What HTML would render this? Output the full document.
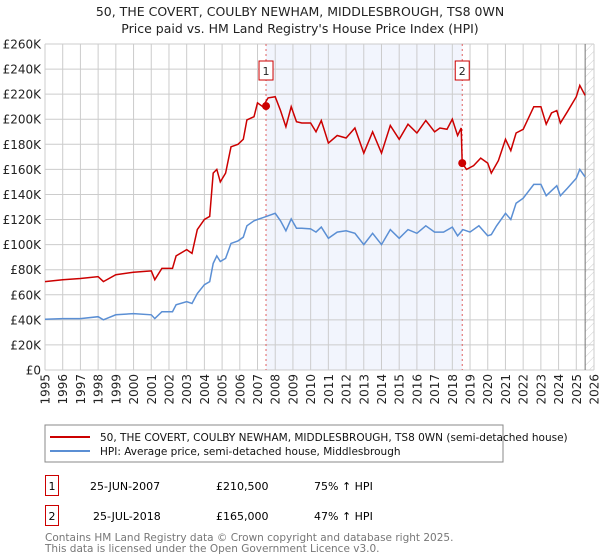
<!DOCTYPE html>
<html><head><meta charset="utf-8"><style>
body{margin:0;background:#fff;font-family:"Liberation Sans","DejaVu Sans",sans-serif;}
#wrap{position:relative;width:600px;height:560px;overflow:hidden;}
</style></head><body>
<div id="wrap">
<svg id="chart" width="600" height="560" xmlns="http://www.w3.org/2000/svg" font-family="DejaVu Sans, Liberation Sans, sans-serif">
<text x="300" y="16" text-anchor="middle" font-size="12.5" fill="#222">50, THE COVERT, COULBY NEWHAM, MIDDLESBROUGH, TS8 0WN</text>
<text x="300" y="33" text-anchor="middle" font-size="12.5" fill="#222">Price paid vs. HM Land Registry's House Price Index (HPI)</text>
<defs><pattern id="hatch" width="6" height="6" patternUnits="userSpaceOnUse" patternTransform="rotate(45)"><line x1="0" y1="0" x2="0" y2="6" stroke="#ccc" stroke-width="1"/></pattern></defs>
<g id="grid"></g><g id="marks"></g><g id="axes"></g>
<rect x="45" y="425" width="458" height="37" fill="#fff" stroke="#888"/>
<line x1="50" y1="437" x2="90" y2="437" stroke="#cc0000" stroke-width="2"/>
<text x="100" y="441" font-size="10.5" fill="#111">50, THE COVERT, COULBY NEWHAM, MIDDLESBROUGH, TS8 0WN (semi-detached house)</text>
<line x1="50" y1="451" x2="90" y2="451" stroke="#5b8fd4" stroke-width="2"/>
<text x="100" y="455" font-size="10.5" fill="#111">HPI: Average price, semi-detached house, Middlesbrough</text>
<rect x="45.5" y="475.5" width="13" height="20" fill="#fff" stroke="#cc0000"/>
<text x="52" y="490" text-anchor="middle" font-size="11">1</text>
<text x="90" y="490" font-size="11">25-JUN-2007</text>
<text x="216" y="490" font-size="11">£210,500</text>
<text x="314" y="490" font-size="11">75% ↑ HPI</text>
<rect x="45.5" y="505.5" width="13" height="20" fill="#fff" stroke="#cc0000"/>
<text x="52" y="520" text-anchor="middle" font-size="11">2</text>
<text x="93" y="520" font-size="11">25-JUL-2018</text>
<text x="216" y="520" font-size="11">£165,000</text>
<text x="314" y="520" font-size="11">47% ↑ HPI</text>
<text x="45" y="541" font-size="10.5" fill="#777">Contains HM Land Registry data © Crown copyright and database right 2025.</text>
<text x="45" y="552" font-size="10.5" fill="#777">This data is licensed under the Open Government Licence v3.0.</text>
</svg>
</div>
<script>
const yTicks=[0,20,40,60,80,100,120,140,160,180,200,220,240,260];
const yTickLabels=["£0","£20K","£40K","£60K","£80K","£100K","£120K","£140K","£160K","£180K","£200K","£220K","£240K","£260K"];
const xTicks=[1995,1996,1997,1998,1999,2000,2001,2002,2003,2004,2005,2006,2007,2008,2009,2010,2011,2012,2013,2014,2015,2016,2017,2018,2019,2020,2021,2022,2023,2024,2025,2026];
const hpiT=[1995,1996,1997,1998,1998.3,1999,2000,2001,2001.2,2001.6,2002.2,2002.4,2003,2003.3,2003.6,2004,2004.3,2004.5,2004.7,2004.9,2005.2,2005.5,2005.9,2006.2,2006.4,2006.8,2007,2007.3,2007.6,2008,2008.3,2008.6,2008.9,2009.2,2009.5,2010,2010.3,2010.6,2011,2011.5,2012,2012.5,2013,2013.5,2014,2014.5,2015,2015.5,2016,2016.5,2017,2017.5,2018,2018.3,2018.6,2019,2019.5,2020,2020.2,2020.5,2021,2021.3,2021.6,2022,2022.6,2023,2023.3,2023.6,2023.9,2024.1,2024.5,2025,2025.2,2025.5];
const hpiV=[40.5,41,41,42.5,40,44,45,44,41,46.5,46.5,52,54.5,53,61,68,70.5,85,91,86.5,89,101,103,106,115,119,120,121.5,123,125,119,111,120.5,113,113,112.5,110,114,105,110,111,109,100,109,100,112,105,112,109,115,110,110,114,107,112,110,115,107,108,115,125,120,133,137,148,148,139,143,147,139,145,153,160,154];
const priceT=[1995,1996,1997,1998,1998.3,1999,2000,2001,2001.2,2001.6,2002.2,2002.4,2003,2003.3,2003.6,2004,2004.3,2004.5,2004.7,2004.9,2005.2,2005.5,2005.9,2006.2,2006.4,2006.8,2007,2007.3,2007.6,2008,2008.3,2008.6,2008.9,2009.2,2009.5,2010,2010.3,2010.6,2011,2011.5,2012,2012.5,2013,2013.5,2014,2014.5,2015,2015.5,2016,2016.5,2017,2017.3,2017.7,2018,2018.3,2018.5,2018.56,2018.8,2019.2,2019.6,2020,2020.2,2020.6,2021,2021.3,2021.6,2022,2022.6,2023,2023.3,2023.6,2023.9,2024.1,2024.5,2025,2025.2,2025.5];
const priceV=[70.5,72,73,74.5,70.5,76,78,79,72,81,81,91,96,93,112,120,122.5,157,160,150,157,178,180,184,199.5,202,213,210,217,218,207,194,210,198,197,197,190,199,181,187,185,193,173,190,173,195,184,196,189,199,190,193,192,200,187,193,165,160,163,169,165,157,167,184,175,189,192,210,210,196,205,207,197,206,218,227,219];
const saleT=[2007.48,2018.56];
const saleV=[210.5,165];
const saleLabels=["1","2"];
const X0=45,X1=594,Y0=370,Y1=44;
const x=t=>X0+(t-1995)/(2026-1995)*(X1-X0);
const y=v=>Y0-v/260*(Y0-Y1);
const NS="http://www.w3.org/2000/svg";
function mk(tag,attrs,parent){const e=document.createElementNS(NS,tag);for(const k in attrs)e.setAttribute(k,attrs[k]);parent.appendChild(e);return e;}
const grid=document.getElementById('grid'),marks=document.getElementById('marks'),axes=document.getElementById('axes');
let r=mk('rect',{x:X0,y:Y1,width:X1-X0,height:Y0-Y1,fill:'#fff'},grid);


r=mk('rect',{x:x(saleT[0]),y:Y1,width:x(saleT[1])-x(saleT[0]),height:Y0-Y1,fill:'#f2f5fd'},grid);


r=mk('rect',{x:x(2025.5),y:Y1,width:X1-x(2025.5),height:Y0-Y1,fill:'url(#hatch)'},grid);


yTicks.forEach((v,i)=>{
 const l=mk('line',{x1:X0,x2:X1,y1:y(v),y2:y(v),stroke:'#ccc','stroke-width':1},grid);
 
 
 const t=mk('text',{x:X0-4,y:y(v)+4.5,'text-anchor':'end','font-size':12,fill:'#222'},axes);
 t.textContent=yTickLabels[i];
 
 
});
xTicks.forEach(v=>{
 const l=mk('line',{x1:x(v),x2:x(v),y1:Y1,y2:Y0,stroke:'#ccc','stroke-width':1},grid);
 
 
 const t=mk('text',{x:0,y:0,'text-anchor':'end','font-size':12,fill:'#222',transform:`translate(${x(v)+4.5},${Y0+4}) rotate(-90)`},axes);
 t.textContent=v;
 
 
});
let l=mk('line',{x1:x(2025.5),x2:x(2025.5),y1:Y1,y2:Y0,stroke:'#777','stroke-width':1},grid);


saleT.forEach((t,i)=>{
 const d=mk('line',{x1:x(t),x2:x(t),y1:Y1,y2:Y0,stroke:'#e06060','stroke-width':1,'stroke-dasharray':'2,3'},marks);
 
 
});
const pl=(T,V)=>T.map((t,i)=>x(t).toFixed(1)+','+y(V[i]).toFixed(1)).join(' ');
let p=mk('polyline',{points:pl(hpiT,hpiV),fill:'none',stroke:'#5b8fd4','stroke-width':1.5},marks);


p=mk('polyline',{points:pl(priceT,priceV),fill:'none',stroke:'#cc0000','stroke-width':1.5},marks);


saleT.forEach((t,i)=>{
 const c=mk('circle',{cx:x(t),cy:y(saleV[i]),r:4,fill:'#cc0000'},marks);
 
 
 const b=mk('rect',{x:x(t)-7,y:61,width:14,height:19,fill:'#fff',stroke:'#cc0000'},marks);
 
 
 const tx=mk('text',{x:x(t),y:75,'text-anchor':'middle','font-size':11,fill:'#222'},marks);
 tx.textContent=saleLabels[i];
 
 
});
</script>
</body></html>
